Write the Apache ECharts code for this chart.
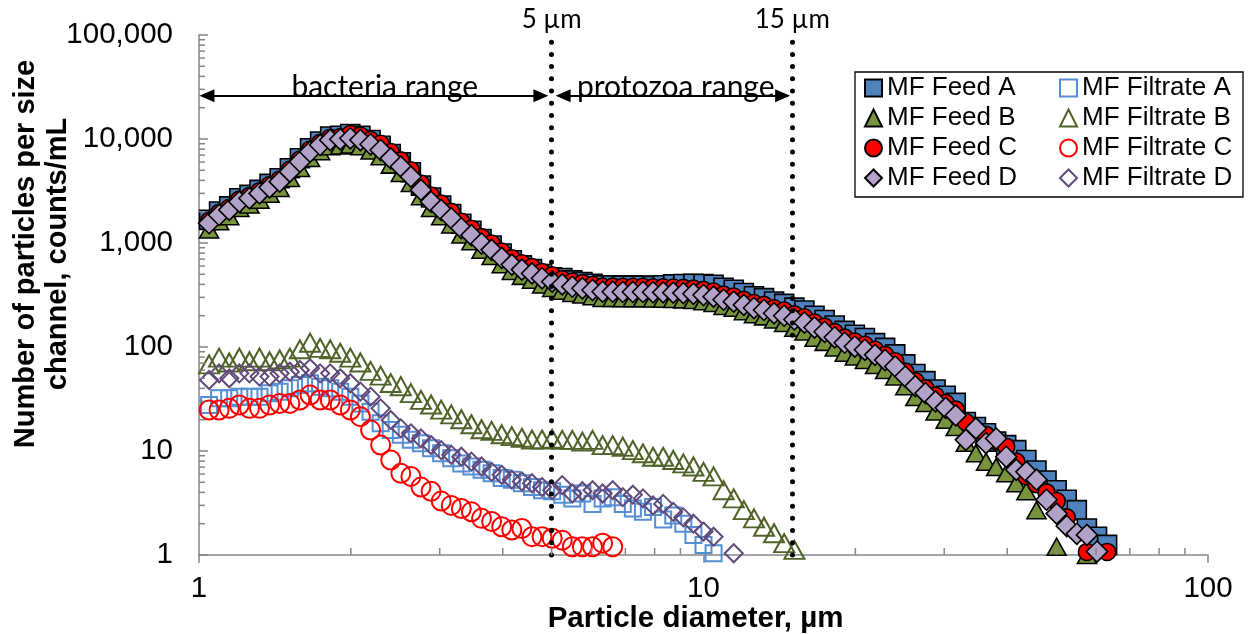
<!DOCTYPE html>
<html>
<head>
<meta charset="utf-8">
<script src="https://cdn.jsdelivr.net/npm/echarts@6/dist/echarts.min.js"></script>
<style>
  html, body { margin: 0; padding: 0; background: #ffffff; }
  #chart { width: 1252px; height: 634px; }
</style>
</head>
<body>
<div id="chart"></div>
<script>
// Particle size channels (µm), shared by every sample
const diameters = [
  1.047, 1.096, 1.148, 1.202, 1.259, 1.318, 1.380, 1.445, 1.514, 1.585,
  1.660, 1.738, 1.820, 1.905, 1.995, 2.089, 2.188, 2.291, 2.399, 2.512,
  2.630, 2.754, 2.884, 3.020, 3.162, 3.311, 3.467, 3.631, 3.802, 3.981,
  4.169, 4.365, 4.571, 4.786, 5.012, 5.248, 5.495, 5.754, 6.026, 6.310,
  6.607, 6.918, 7.244, 7.586, 7.943, 8.318, 8.710, 9.120, 9.550, 10.00,
  10.47, 10.96, 11.48, 12.02, 12.59, 13.18, 13.80, 14.45, 15.14, 15.85,
  16.60, 17.38, 18.20, 19.05, 19.95, 20.89, 21.88, 22.91, 23.99, 25.12,
  26.30, 27.54, 28.84, 30.20, 31.62, 33.11, 34.67, 36.31, 38.02, 39.81,
  41.69, 43.65, 45.71, 47.86, 50.12, 52.48, 54.95, 57.54, 60.26, 63.10
];

// Counts per size channel (counts/mL); null = no particles counted
const feedA = [
  1670, 2010, 2250, 2690, 2900, 3240, 3700, 4200, 5240, 6530, 8150, 9460, 10560, 10740,
  11180, 10760, 9790, 8610, 7170, 5960, 4790, 3560, 2740, 2290, 1900, 1530, 1310, 1090, 946, 792, 682, 610, 561, 504, 468,
  460, 437, 422, 406, 391, 391, 389, 389, 389,
  386, 392, 400, 403, 406, 404,
  397, 371, 355, 330, 308, 295, 274, 260, 239, 224, 200, 182, 161, 143, 131, 122, 109, 98, 85, 68, 55, 47, 39, 34, 29,
  19, 17, 14.8, 12.3, 11.4, 10.2, 8.2, 6.5, 5.2, 4.2, 3.4, 2.7, 1.8, 1.5, 1.25
];
const feedB = [
  1350, 1620, 1810, 2170, 2340, 2610, 2980, 3380, 4220, 5260, 6570, 7620, 8510, 8650,
  8840, 8510, 7740, 6810, 5670, 4720, 3780, 2820, 2170, 1810, 1510, 1210, 1040, 861, 748, 626, 539, 483, 444, 398, 370,
  348, 331, 319, 307, 296, 296, 294, 294, 294, 292, 291, 290, 287, 283, 275, 265, 248, 238, 221, 206, 197, 184,
  170, 153, 141, 123, 112, 99, 88, 81, 75, 67, 60, 52, 42, 33, 29, 24, 20, 17,
  12, 9.5, 7.9, 7, 6.1, 4.9, 4.1, 2.7, null, 1.2, null, null, 1.0, null, null
];
const feedC = [
  1630, 1950, 2180, 2610, 2820, 3150, 3600, 4080, 5090, 6350, 7930, 9200, 10270, 10440,
  11180, 10760, 9790, 9000, 7500, 6230, 5000, 3730, 2860, 2390, 1990, 1600, 1370, 1140, 989, 828, 713, 638, 587, 527, 489,
  448, 426, 411, 395, 381, 381, 379, 379, 379, 376, 375, 373, 370, 364, 354, 342, 319, 306, 284, 265,
  254, 236, 224, 206, 193, 172, 157, 139, 123, 113, 105, 94, 84, 73, 58, 47, 40, 34, 29, 25,
  19, 16, 14.3, 12.5, 11, 7.9, 5.7, 4.8, 4.0, 3.3, 2.3, null, 1.07, null, 1.07
];
const feedD = [
  1550, 1860, 2080, 2490, 2690, 3000, 3430, 3890, 4850, 6050,
  7550, 8760, 9780, 9940, 10160, 9780, 8900, 7830, 6520, 5420,
  4350, 3240, 2490, 2080, 1730, 1390, 1190, 990, 860, 720,
  620, 555, 510, 458, 425, 400, 380, 367, 353, 340,
  340, 338, 338, 338, 336, 335, 333, 330, 325, 316,
  305, 285, 273, 254, 237, 227, 211, 200, 184, 172,
  154, 140, 124, 110, 101, 94, 84, 75, 65, 52,
  42, 36, 30, 26, 22, 12.8, 16.5, 11.9, 13.2, 8.8,
  6.6, 6.3, 5.3, 3.4, 2.5, 1.9, 1.6, 1.56, 1.08, null
];
const filtrateA = [
  27.7, 32.1, 32.1, 33.3, 33.3, 33.3, 35.9, 37.2, 40.1, 43.1,
  44.8, 41.5, 40.1, 37.2, 33.3, 28.7, 23.9, 18.5, 15.9, 14.3,
  12.8, 11.9, 10.6, 9.5, 8.5, 7.6, 7.1, 6.6, 6.1, 5.5,
  5.3, 4.9, 4.5, 4.2, 4.1, 3.8, 3.5, 3.9, 3.1, 3.5,
  3.6, 3.1, 2.8, 2.6, 2.9, 2.2, 2.4, 2.0, 1.56, 1.25, 1.04
];
const filtrateB = [
  68, 79, 71, 79, 73, 79, 73, 76, 79, 95,
  110, 98, 95, 88, 79, 71, 59, 53, 45, 42,
  36, 31, 28, 25, 22.5, 20.2, 18.1, 16.2, 15.6, 14.5,
  13.9, 13.4, 12.9, 12.9, 13.1, 12.8, 12.8, 12.3, 12.8, 11.4,
  11.4, 11, 10.2, 9.5, 8.8, 8.8, 8.2, 7.6, 7.1, 6.3,
  5.7, 4.2, 3.5, 2.7, 2.25, 1.87, 1.62, 1.3, 1.12
];
const filtrateC = [
  24.8, 24.8, 25.7, 27.7, 25.7, 25.7, 27.7, 28.7, 28.7, 30.9,
  34.5, 30.9, 30.9, 27.7, 24.8, 21.4, 15.9, 11.4, 8.2, 6.1,
  5.7, 4.5, 4.1, 3.3, 3.0, 2.8, 2.6, 2.25, 2.1, 1.87,
  1.74, 1.8, 1.5, 1.5, 1.45, 1.39, 1.2, 1.2, 1.2, 1.3, 1.2
];
const filtrateD = [
  48.2, 55.8, 50, 55.8, 55.8, 51.9, 51.9, 55.8, 57.9, 60.1,
  62.4, 55.8, 55.8, 50, 44.8, 37.2, 33.3, 25.7, 19.9, 16.5,
  14.8, 13.2, 11.4, 10.2, 9.2, 8.8, 7.9, 7.1, 6.3, 5.9,
  5.3, 5.1, 4.9, 4.5, 4.2, 4.7, 3.9, 4.1, 4.2, 3.9,
  4.2, 3.6, 3.8, 3.5, 3.0, 3.1, 2.6, 2.3, 2.0, 1.68, 1.5, null, 1.04
];

// Minor tick positions on the two logarithmic axes
const xMinorTicks = [2, 3, 4, 5, 6, 7, 8, 9, 20, 30, 40, 50, 60, 70, 80, 90];
const yMinorTicks = [
  2, 3, 4, 5, 6, 7, 8, 9,
  20, 30, 40, 50, 60, 70, 80, 90,
  200, 300, 400, 500, 600, 700, 800, 900,
  2000, 3000, 4000, 5000, 6000, 7000, 8000, 9000,
  20000, 30000, 40000, 50000, 60000, 70000, 80000, 90000
];

// Size boundaries and range annotations
const boundaries = [{ size: 5, text: '5 µm' }, { size: 15, text: '15 µm' }];
const bacteriaArrow = { from: 1.037, to: 4.76, level: 26000 };
const protozoaArrow = { from: 5.27, to: 14.35, level: 26000 };
const rangeTexts = [
  { name: 'bacteria range', size: 2.335, level: 31600 },
  { name: 'protozoa range', size: 8.81, level: 31600 }
];

const ARIAL = '"Liberation Sans", Arial, sans-serif';
const AXIS_GREY = '#868686';

function pairs(values) {
  const out = [];
  values.forEach((v, i) => { if (v != null) out.push([diameters[i], v]); });
  return out;
}
function feedSeries(name, values, symbol, size, fill) {
  return {
    type: 'scatter', name, data: pairs(values), symbol, symbolSize: size,
    itemStyle: { color: fill, borderColor: '#000000', borderWidth: 1.6, opacity: 1 },
    emphasis: { disabled: true }, z: 3
  };
}
function filtrateSeries(name, values, symbol, size, stroke) {
  return {
    type: 'scatter', name, data: pairs(values), symbol, symbolSize: size,
    itemStyle: { color: 'rgba(255,255,255,0)', borderColor: stroke, borderWidth: 2, opacity: 1 },
    emphasis: { disabled: true }, z: 3
  };
}

const dotted = { color: '#000000', width: 5, type: [0.01, 12.2], cap: 'round' };
const arrowLine = { color: '#000000', width: 2, type: 'solid' };
const arrowEnd = { symbol: 'triangle', symbolSize: [13, 15] };

const series = [
  feedSeries('MF Feed A', feedA, 'rect', 19, '#4F81BD'),
  filtrateSeries('MF Filtrate A', filtrateA, 'rect', 16, '#558ED5'),
  feedSeries('MF Feed B', feedB, 'triangle', [19, 17], '#77933C'),
  filtrateSeries('MF Filtrate B', filtrateB, 'triangle', [20, 18], '#4F6228'),
  feedSeries('MF Feed C', feedC, 'circle', 17, '#FF0000'),
  filtrateSeries('MF Filtrate C', filtrateC, 'circle', 19, '#FF0000'),
  feedSeries('MF Feed D', feedD, 'diamond', 21, '#B3A2C7'),
  filtrateSeries('MF Filtrate D', filtrateD, 'diamond', 18, '#604A7B'),
  {
    // boundary lines, range arrows and range labels
    type: 'scatter', name: 'annotations', data: [], z: 10, silent: true,
    markLine: {
      silent: true, animation: false, symbol: ['none', 'none'],
      data: [
        ...boundaries.map(b => ({
          xAxis: b.size, lineStyle: dotted,
          label: {
            show: true, position: 'end', distance: 2, formatter: b.text,
            fontFamily: 'Lato, "Open Sans", sans-serif', fontSize: 26, color: '#000000'
          }
        })),
        ...[bacteriaArrow, protozoaArrow].map(a => [
          Object.assign({ coord: [a.from, a.level], lineStyle: arrowLine, label: { show: false } }, arrowEnd),
          Object.assign({ coord: [a.to, a.level] }, arrowEnd)
        ])
      ]
    },
    markPoint: {
      silent: true, animation: false, symbol: 'circle', symbolSize: 1,
      itemStyle: { color: 'rgba(0,0,0,0)' },
      label: {
        show: true, position: 'inside', formatter: '{b}',
        fontFamily: 'Lato, "Open Sans", sans-serif', fontSize: 30, color: '#000000'
      },
      data: rangeTexts.map(t => ({ name: t.name, coord: [t.size, t.level] }))
    }
  },
  {
    type: 'custom', name: 'x minor ticks', silent: true, clip: false, z: 6,
    data: xMinorTicks.map(v => [v, 1]),
    renderItem: (params, api) => {
      const p = api.coord([api.value(0), api.value(1)]);
      return { type: 'line', shape: { x1: p[0], y1: p[1], x2: p[0], y2: p[1] - 7 },
               style: { stroke: AXIS_GREY, lineWidth: 1.5 } };
    }
  },
  {
    type: 'custom', name: 'y minor ticks', silent: true, clip: false, z: 6,
    data: yMinorTicks.map(v => [1, v]),
    renderItem: (params, api) => {
      const p = api.coord([api.value(0), api.value(1)]);
      return { type: 'line', shape: { x1: p[0], y1: p[1], x2: p[0] + 6, y2: p[1] },
               style: { stroke: AXIS_GREY, lineWidth: 1.5 } };
    }
  }
];

const legendText = { fontFamily: ARIAL, fontSize: 26, color: '#000000', lineHeight: 30 };

const option = {
  animation: false,
  backgroundColor: '#ffffff',
  grid: { left: 199, top: 35, width: 1009, height: 520, outerBoundsMode: 'none' },
  xAxis: {
    type: 'log', logBase: 10, min: 1, max: 100,
    name: 'Particle diameter, µm', nameLocation: 'middle', nameGap: 49, nameMoveOverlap: false,
    nameTextStyle: { fontFamily: ARIAL, fontSize: 29.5, fontWeight: 'bold', color: '#000000', padding: [0, 16, 0, 0] },
    axisLine: { show: true, lineStyle: { color: AXIS_GREY, width: 1.5 } },
    axisTick: { show: true, inside: false, length: 8, lineStyle: { color: AXIS_GREY, width: 1.5 } },
    axisLabel: { margin: 19, fontFamily: ARIAL, fontSize: 29.5, color: '#000000',
                 formatter: v => String(Math.round(v)) },
    splitLine: { show: false },
    minorTick: { show: false }
  },
  yAxis: {
    type: 'log', logBase: 10, min: 1, max: 100000,
    name: 'Number of particles per size\nchannel, counts/mL', nameLocation: 'middle', nameGap: 125, nameMoveOverlap: false,
    nameTextStyle: { fontFamily: ARIAL, fontSize: 29, fontWeight: 'bold', color: '#000000',
                     lineHeight: 32, padding: [0, 0, 0, 82] },
    axisLine: { show: true, lineStyle: { color: AXIS_GREY, width: 1.5 } },
    axisTick: { show: true, inside: true, length: 9, lineStyle: { color: AXIS_GREY, width: 1.5 } },
    axisLabel: { margin: 26, fontFamily: ARIAL, fontSize: 29.5, color: '#000000',
                 formatter: v => Math.round(v).toLocaleString('en-US') },
    splitLine: { show: false },
    minorTick: { show: false }
  },
  legend: [
    {
      orient: 'vertical', left: 864, top: 73, padding: 0, itemGap: 0,
      itemWidth: 17, itemHeight: 17, selectedMode: false,
      textStyle: legendText,
      data: ['MF Feed A', 'MF Feed B', 'MF Feed C', 'MF Feed D']
    },
    {
      orient: 'vertical', left: 1059, top: 73, padding: 0, itemGap: 0,
      itemWidth: 17, itemHeight: 17, selectedMode: false,
      textStyle: legendText,
      data: ['MF Filtrate A', 'MF Filtrate B', 'MF Filtrate C', 'MF Filtrate D']
    }
  ],
  graphic: [{
    type: 'rect', z: 1, silent: true,
    shape: { x: 855, y: 72, width: 388, height: 125 },
    style: { fill: 'rgba(0,0,0,0)', stroke: '#000000', lineWidth: 1.3 }
  }],
  series
};

const chart = echarts.init(document.getElementById('chart'), null, { renderer: 'canvas' });
chart.setOption(option);
</script>
</body>
</html>
